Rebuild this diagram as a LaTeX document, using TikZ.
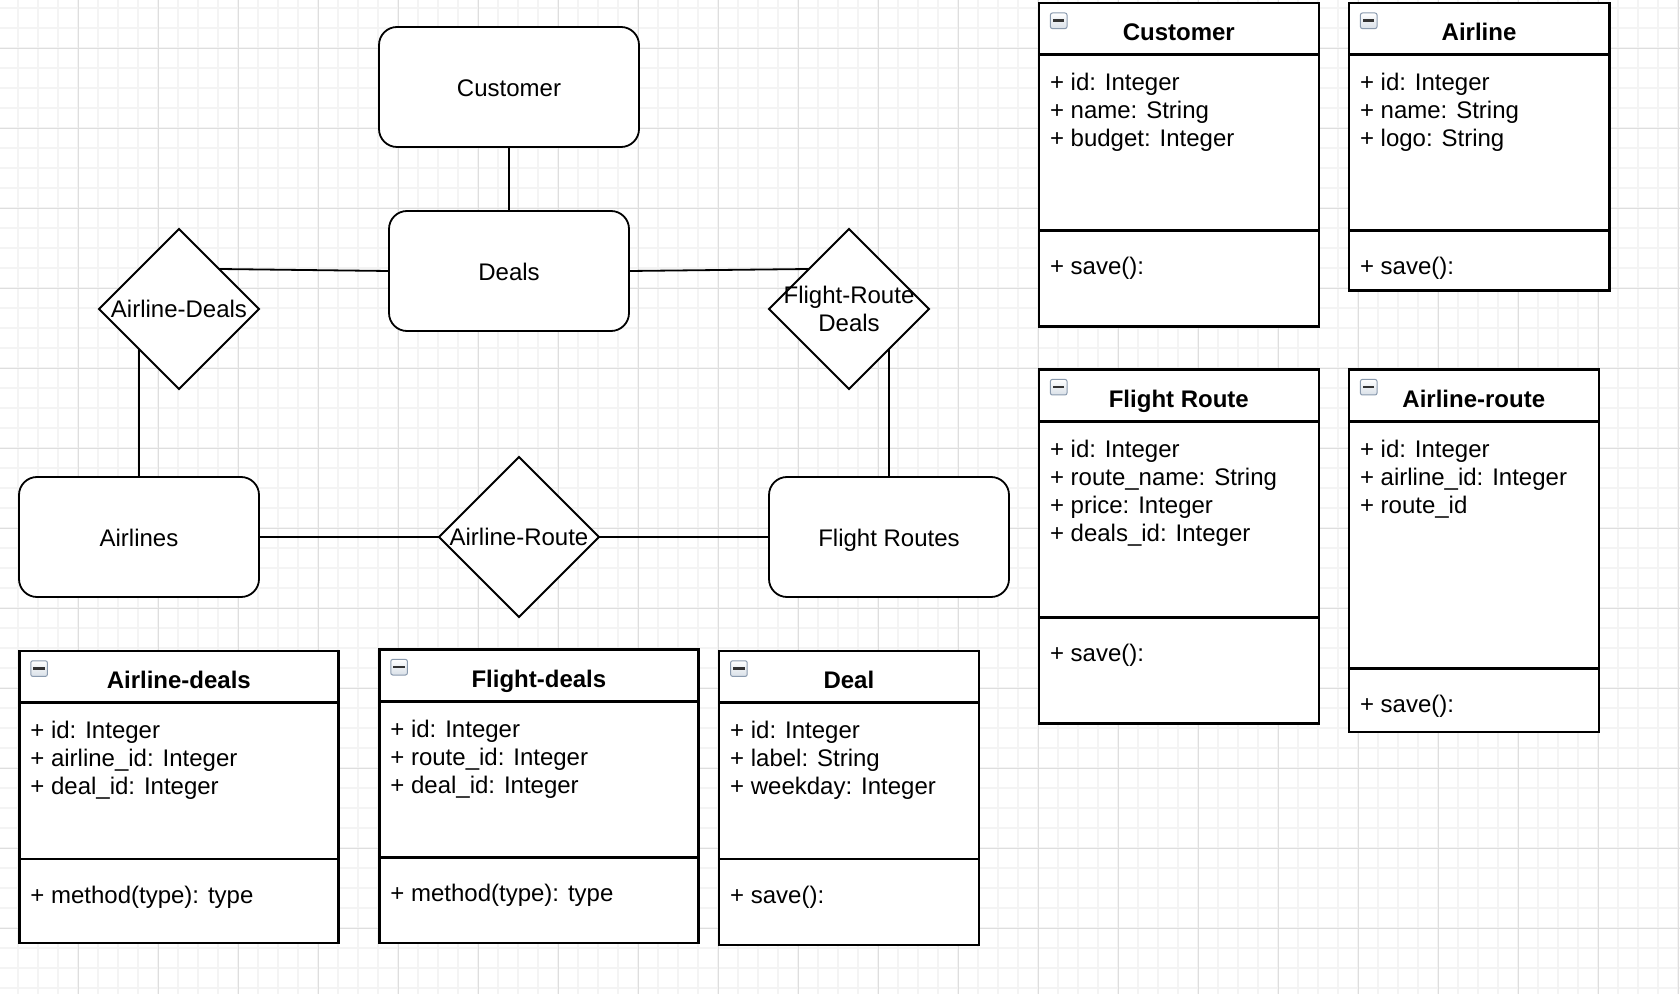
\documentclass[tikz,border=0pt]{standalone}
\usepackage{fontspec}
\setmainfont{Liberation Sans}
\usetikzlibrary{shapes.geometric,calc}
\definecolor{gridmajor}{HTML}{DEDEDE}
\definecolor{gridminor}{HTML}{F4F4F4}
\definecolor{iconedge}{HTML}{8A9AAE}
\definecolor{iconlow}{HTML}{D9E0E8}
\definecolor{icondash}{HTML}{333333}

\tikzset{
  entity/.style={draw, fill=white, rounded corners=9pt, line width=0.9pt,
    minimum width=120pt, minimum height=60pt, inner sep=0pt, outer sep=0pt,
    text height=9.6pt, text depth=0pt,
    font=\fontsize{12}{14}\selectfont},
  relation/.style={draw, fill=white, diamond, line width=0.9pt,
    minimum width=80pt, minimum height=80pt, inner sep=0pt, outer sep=0pt},
  reltext/.style={inner sep=0pt, align=center, font=\fontsize{12}{14}\selectfont},
  link/.style={line width=0.9pt},
  classbox/.style={draw, fill=white, line width=1.3pt, inner sep=0pt,
    outer sep=0pt, anchor=north west},
  classline/.style={line width=1.3pt},
  classtitle/.style={inner sep=0pt, anchor=base,
    font=\fontsize{12}{14}\selectfont\bfseries},
  member/.style={inner sep=0pt, anchor=base west,
    font=\fontsize{12}{14}\selectfont},
  iconframe/.style={draw=iconedge, line width=0.5pt, top color=white,
    bottom color=iconlow, rounded corners=1pt},
  majorgrid/.style={draw=gridmajor, line width=0.5pt},
  minorgrid/.style={draw=gridminor, line width=1pt},
}

% #1 name, #2 left, #3 top, #4 right, #5 header divider, #6 method divider, #7 bottom
\newcommand{\umlclass}[7]{%
  \def\ul{#2}\def\ur{#4}\def\uh{#5}\def\um{#6}%
  \pgfmathsetmacro\ucw{#4-#2}%
  \pgfmathsetmacro\uch{#7-#3}%
  \node[classbox, minimum width=\ucw pt, minimum height=\uch pt] (#1) at (#2,#3) {};
  \draw[classline] (#2,#5) -- (#4,#5);
  \draw[classline] (#2,#6) -- (#4,#6);
  \draw[iconframe] ({#2+5.8},{#3+4.9}) rectangle ++(8.3,7.8);
  \fill[icondash] ({#2+7.1},{#3+8.1}) rectangle ++(5.7,1.3);
}
\newcommand{\umltitle}[2]{%
  \node[classtitle] (#1-title) at ({(\ul+\ur)/2},{\uh-6.9}) {#2};}
\newcommand{\umlattrs}[2]{%
  \foreach \mtext [count=\mi] in {#2} {%
    \node[member] (#1-a\mi) at ({\ul+5.4},{\uh+18+14*(\mi-1)}) {\mtext};}}
\newcommand{\umlmethod}[2]{%
  \node[member] (#1-m) at ({\ul+5.4},{\um+22}) {#2};}

\begin{document}
\begin{tikzpicture}[x=1pt, y=-1pt]
\useasboundingbox (0,0) rectangle (840,497);
\fill[white] (0,0) rectangle (840,497);
% grid
\foreach \gx in {0,...,83} \draw[minorgrid] ({9.15+10*\gx},0) -- ({9.15+10*\gx},497);
\foreach \gy in {0,...,49} \draw[minorgrid] (0,{4.15+10*\gy}) -- (840,{4.15+10*\gy});
\foreach \gx in {1,...,21} \draw[majorgrid] ({-0.85+40*\gx},0) -- ({-0.85+40*\gx},497);
\foreach \gy in {0,...,11} \draw[majorgrid] (0,{24.15+40*\gy}) -- (840,{24.15+40*\gy});

% ER part
\node[entity, minimum width=130pt] (customer) at (254.5,43.5) {Customer};
\node[entity] (deals) at (254.5,135.5) {Deals};
\node[entity] (airlines) at (69.5,268.5) {Airlines};
\node[entity] (flightroutes) at (444.5,268.5) {Flight Routes};
\node[relation] (ad) at (89.5,154.5) {};
\node[reltext] (ad-t) at (ad.center) {Airline-Deals};
\node[relation] (frd) at (424.5,154.5) {};
\node[reltext] (frd-t) at (frd.center) {Flight-Route\\Deals};
\node[relation] (ar) at (259.5,268.5) {};
\node[reltext] (ar-t) at (ar.center) {Airline-Route};

\draw[link] (customer.south) -- (deals.north);
\draw[link] ($(ad.north)!0.5!(ad.east)$) -- (deals.west);
\draw[link] (deals.east) -- ($(frd.north)!0.5!(frd.west)$);
\draw[link] ($(ad.west)!0.5!(ad.south)$) -- (airlines.north);
\draw[link] ($(frd.east)!0.5!(frd.south)$) -- (flightroutes.north);
\draw[link] (airlines.east) -- (ar.west);
\draw[link] (ar.east) -- (flightroutes.west);

% class boxes
\umlclass{cCustomer}{519.4}{1.6}{659.4}{27.3}{115.2}{163.4}
\umltitle{cCustomer}{Customer}
\umlattrs{cCustomer}{+ id: Integer, + name: String, + budget: Integer}
\umlmethod{cCustomer}{+ save():}

\umlclass{cAirline}{674.4}{1.6}{804.6}{27.3}{115.2}{145.2}
\umltitle{cAirline}{Airline}
\umlattrs{cAirline}{+ id: Integer, + name: String, + logo: String}
\umlmethod{cAirline}{+ save():}

\umlclass{cFlightRoute}{519.4}{184.8}{659.4}{210.6}{308.6}{361.6}
\umltitle{cFlightRoute}{Flight Route}
\umlattrs{cFlightRoute}{+ id: Integer, + route\_name: String, + price: Integer, + deals\_id: Integer}
\umlmethod{cFlightRoute}{+ save():}

\umlclass{cAirlineRoute}{674.4}{184.8}{799.4}{210.6}{334.3}{365.9}
\umltitle{cAirlineRoute}{Airline-route}
\umlattrs{cAirlineRoute}{+ id: Integer, + airline\_id: Integer, + route\_id}
\umlmethod{cAirlineRoute}{+ save():}

\umlclass{cAirlineDeals}{9.6}{325.5}{169.2}{351.3}{429.5}{471.5}
\umltitle{cAirlineDeals}{Airline-deals}
\umlattrs{cAirlineDeals}{+ id: Integer, + airline\_id: Integer, + deal\_id: Integer}
\umlmethod{cAirlineDeals}{+ method(type): type}

\umlclass{cFlightDeals}{189.6}{324.8}{349.3}{350.7}{428.6}{471.5}
\umltitle{cFlightDeals}{Flight-deals}
\umlattrs{cFlightDeals}{+ id: Integer, + route\_id: Integer, + deal\_id: Integer}
\umlmethod{cFlightDeals}{+ method(type): type}

\umlclass{cDeal}{359.5}{325.5}{489.4}{351.3}{429.5}{472.4}
\umltitle{cDeal}{Deal}
\umlattrs{cDeal}{+ id: Integer, + label: String, + weekday: Integer}
\umlmethod{cDeal}{+ save():}
\end{tikzpicture}
\end{document}
